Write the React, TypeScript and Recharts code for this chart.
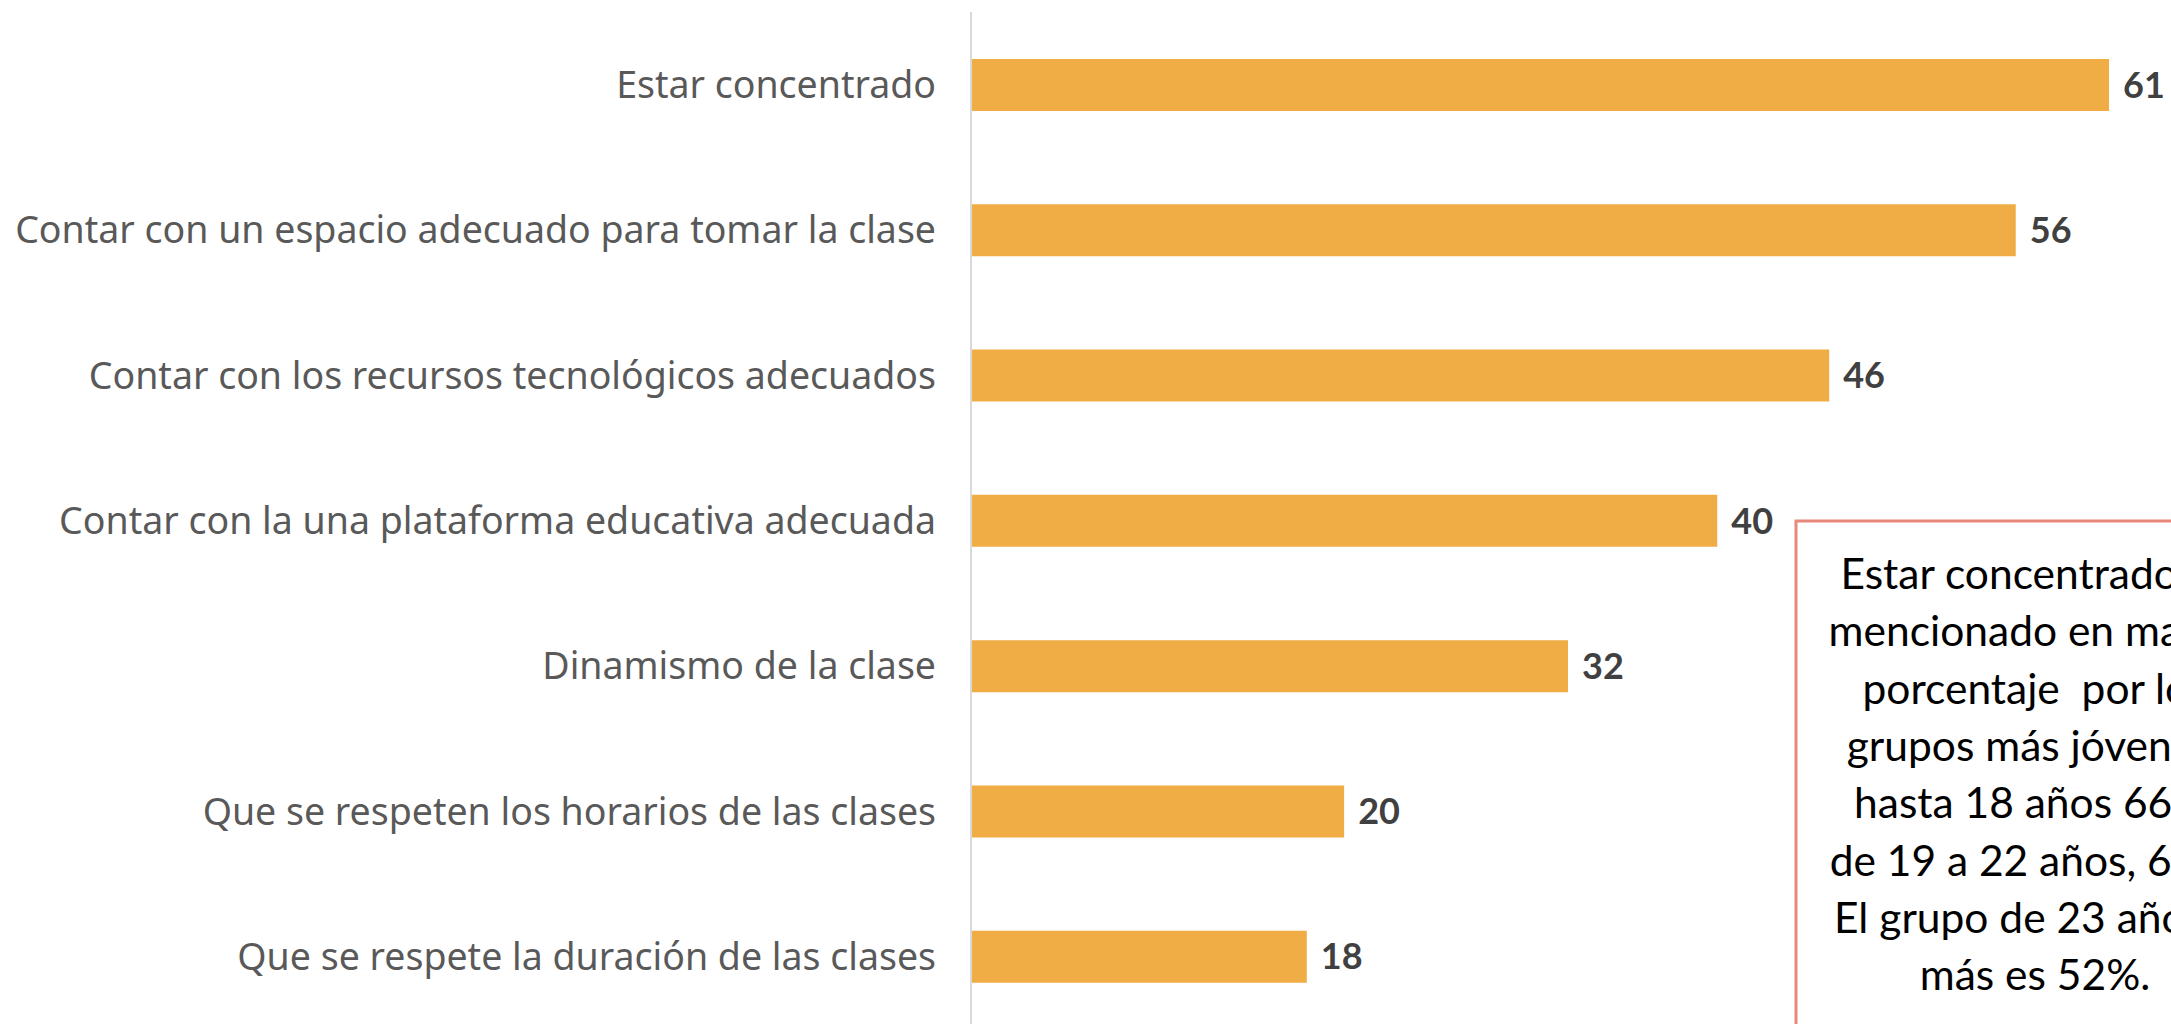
import React from 'react';
import { BarChart, Bar, XAxis, YAxis, LabelList } from 'recharts';

const categories = [
  'Estar concentrado',
  'Contar con un espacio adecuado para tomar la clase',
  'Contar con los recursos tecnológicos adecuados',
  'Contar con la una plataforma educativa adecuada',
  'Dinamismo de la clase',
  'Que se respeten los horarios de las clases',
  'Que se respete la duración de las clases',
];
const values = [61, 56, 46, 40, 32, 20, 18];
const noteLines = [
  'Estar concentrado es',
  'mencionado en mayor',
  'porcentaje  por los',
  'grupos más jóvenes:',
  'hasta 18 años 66%,',
  'de 19 a 22 años, 62%.',
  'El grupo de 23 años a',
  'más es 52%.',
];

const data = categories.map((name, i) => ({ name, value: values[i] }));

const CategoryTick = (props: any) => {
  const { x, y, payload } = props;
  return (
    <text x={x} y={y} dy="0.36em" textAnchor="end" fill="#595959" fontFamily="Noto Sans" fontSize={37.5}>
      {payload.value}
    </text>
  );
};

export default function App() {
  return (
    <div style={{ position: 'absolute', left: 0, top: 0, width: 2171, height: 1024, overflow: 'hidden', background: '#fff' }}>
      <BarChart
        width={2171}
        height={1040}
        data={data}
        layout="vertical"
        margin={{ top: 12, right: 6, bottom: 11, left: 0 }}
        barCategoryGap={0}
      >
        <XAxis type="number" domain={[0, 64]} hide />
        <YAxis
          type="category"
          dataKey="name"
          width={971}
          tickLine={false}
          tickSize={0}
          tickMargin={35}
          axisLine={{ stroke: '#D9D9D9', strokeWidth: 2 }}
          tick={<CategoryTick />}
          interval={0}
        />
        <Bar dataKey="value" fill="#F0AD45" barSize={52} isAnimationActive={false}>
          <LabelList
            dataKey="value"
            position="right"
            offset={14}
            fill="#404040"
            fontFamily="Lato"
            fontWeight="bold"
            fontSize={36}
          />
        </Bar>
      </BarChart>
      <svg width={2171} height={1024} style={{ position: 'absolute', left: 0, top: 0 }}>
        <rect x={1796} y={521} width={480} height={560} fill="#fff" stroke="#E8877A" strokeWidth={3} />
        {noteLines.map((line, i) => (
          <text
            key={i}
            x={2035}
            y={589 + i * 57.3}
            textAnchor="middle"
            fill="#000"
            fontFamily="Lato"
            fontSize={42.5}
            style={{ whiteSpace: 'pre' }}
          >
            {line}
          </text>
        ))}
      </svg>
    </div>
  );
}
